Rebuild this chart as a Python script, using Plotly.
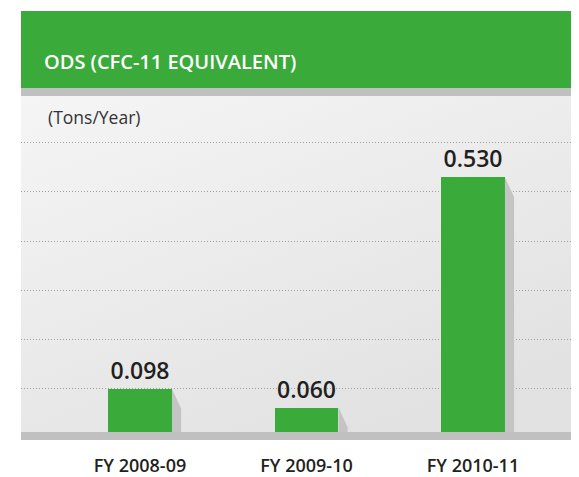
import base64
import plotly.graph_objects as go

categories = ['FY 2008-09', 'FY 2009-10', 'FY 2010-11']
values = [0.098, 0.060, 0.530]
value_labels = ['0.098', '0.060', '0.530']
grid_vals = [0.1, 0.2, 0.3, 0.4, 0.5, 0.6]

green = '#3aaa3a'
shadow = '#c4c4c4'
bar_w = 0.384
x_range = [-0.715, 2.637]
y_range = [-0.00612, 0.6959]

# soft grey gradient for the panel, as an svg image behind the grid
svg = ('<svg xmlns="http://www.w3.org/2000/svg" width="558" height="344">'
       '<defs><linearGradient id="g" x1="0" y1="0" x2="0.6" y2="1">'
       '<stop offset="0" stop-color="#f5f5f5"/><stop offset="1" stop-color="#e2e2e2"/>'
       '</linearGradient></defs><rect width="558" height="344" fill="url(#g)"/></svg>')
bg_src = 'data:image/svg+xml;base64,' + base64.b64encode(svg.encode()).decode()

fig = go.Figure()

# drop shadow on the right of each bar
for i, v in enumerate(values):
    xr = i + bar_w / 2
    fig.add_trace(go.Scatter(
        x=[xr, xr + 0.055, xr + 0.055, xr, xr],
        y=[v, v - 0.04, 0, 0, v],
        fill='toself', fillcolor=shadow, mode='none',
        hoverinfo='skip', showlegend=False))

fig.add_trace(go.Bar(
    x=list(range(len(categories))), y=values, width=bar_w,
    marker=dict(color=green, line=dict(width=0)),
    text=value_labels, textposition='outside', cliponaxis=False,
    textfont=dict(family='Open Sans', size=23, color='#231f20', weight=600),
    showlegend=False))

# page body adds 8px margin, so the figure is shifted by that amount
fig.update_layout(
    width=571, height=469,
    margin=dict(l=13, r=0, t=88, b=37),
    paper_bgcolor='white', plot_bgcolor='#ebebeb',
    bargap=0,
    images=[dict(source=bg_src, xref='paper', yref='paper', x=0, y=1,
                 sizex=1, sizey=1, sizing='stretch', xanchor='left', yanchor='top',
                 layer='below')],
    xaxis=dict(range=x_range, tickvals=list(range(len(categories))),
               ticktext=categories, showgrid=False, zeroline=False,
               ticks='outside', ticklen=9, tickcolor='rgba(0,0,0,0)',
               tickfont=dict(family='Open Sans', size=18, color='#231f20', weight=600),
               fixedrange=True),
    yaxis=dict(range=y_range, tickvals=grid_vals, showticklabels=False,
               showgrid=True, gridcolor='#a0a0a0', gridwidth=1, griddash='1px,2px',
               zeroline=False, fixedrange=True),
    shapes=[
        # green header band
        dict(type='rect', xref='paper', yref='paper', x0=0, x1=1, y0=1.0233, y1=1.2471,
             fillcolor=green, line=dict(width=0)),
        # grey strip under header
        dict(type='rect', xref='paper', yref='paper', x0=0, x1=1, y0=1.0, y1=1.0233,
             fillcolor='#c0c0c0', line=dict(width=0)),
        # baseline band
        dict(type='rect', xref='paper', yref='y', x0=0, x1=1, y0=-0.00612, y1=0.0102,
             fillcolor='#c0c0c0', line=dict(width=0), layer='above'),
    ],
    annotations=[
        dict(text='ODS (CFC-11 EQUIVALENT)', xref='paper', yref='paper', x=0.037, y=1.099,
             xanchor='left', yanchor='middle', showarrow=False,
             font=dict(family='Open Sans', size=20, color='white', weight=600)),
        dict(text='(Tons/Year)', xref='paper', yref='paper', x=0.0448, y=0.939,
             xanchor='left', yanchor='middle', showarrow=False,
             font=dict(family='Open Sans', size=17.5, color='#333333')),
    ],
)

fig.write_html('out.html')
